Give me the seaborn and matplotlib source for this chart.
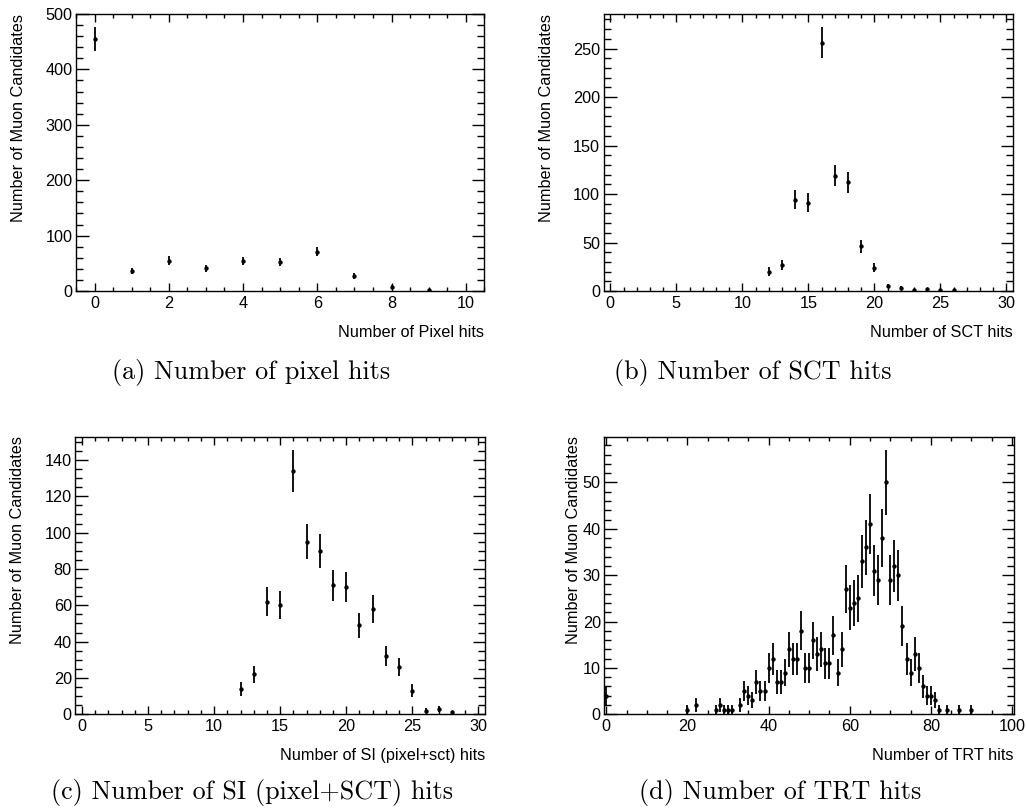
import numpy as np
import pandas as pd
import matplotlib
matplotlib.use("Agg")
import matplotlib.pyplot as plt
import seaborn as sns
from matplotlib.ticker import MultipleLocator

# ---------------- data ----------------
pixel_hits = [0, 1, 2, 3, 4, 5, 6, 7, 8, 9]
pixel_counts = [455, 36, 55, 41, 54, 53, 71, 27, 8, 1]

sct_hits = [12, 13, 14, 15, 16, 17, 18, 19, 20, 21, 22, 23, 24, 25, 26]
sct_counts = [20, 27, 94, 91, 256, 119, 112, 46, 24, 5, 3, 1, 2, 1, 1]

si_hits = [12, 13, 14, 15, 16, 17, 18, 19, 20, 21, 22, 23, 24, 25, 26, 27, 28]
si_counts = [14, 22, 62, 60, 134, 95, 90, 71, 70, 49, 58, 32, 26, 13, 2, 3, 1]

trt_hits = [0, 20, 22, 27, 28, 29, 30, 31, 33, 34, 35, 36, 37, 38, 39, 40, 41,
            42, 43, 44, 45, 46, 47, 48, 49, 50, 51, 52, 53, 54, 55, 56, 57, 58,
            59, 60, 61, 62, 63, 64, 65, 66, 67, 68, 69, 70, 71, 72, 73, 74, 75,
            76, 77, 78, 79, 80, 81, 82, 84, 87, 90]
trt_counts = [4, 1, 2, 1, 2, 1, 1, 1, 2, 5, 4, 3, 7, 5, 5, 10, 12,
              7, 7, 9, 14, 12, 12, 18, 10, 10, 16, 13, 14, 11, 11, 17, 9, 14,
              27, 23, 24, 25, 33, 36, 41, 31, 29, 38, 50, 29, 32, 30, 19, 12, 9,
              13, 10, 6, 4, 4, 3, 1, 1, 1, 1]

x_titles = ["Number of Pixel hits", "Number of SCT hits",
            "Number of SI (pixel+sct) hits", "Number of TRT hits"]
y_title = "Number of Muon Candidates"
captions = ["(a) Number of pixel hits", "(b) Number of SCT hits",
            "(c) Number of SI (pixel+SCT) hits", "(d) Number of TRT hits"]

# ---------------- style ----------------
sns.set_theme(style="ticks")
plt.rcParams["font.family"] = ["Liberation Sans", "DejaVu Sans"]
plt.rcParams["axes.linewidth"] = 1.0

fig = plt.figure(figsize=(10.26, 8.1), dpi=100)
W, H = 1026.0, 810.0

def px_axes(l, t, r, b):
    return fig.add_axes([l / W, 1 - b / H, (r - l) / W, (b - t) / H])

panels = [
    dict(box=(76, 14, 484.3, 291), x=pixel_hits, y=pixel_counts, xlim=(-0.5, 10.5),
         ylim=(0, 500), xmaj=2, xmin=0.5, ymaj=100, ymin=20, ylab_off=-50, cap=(251, 372)),
    dict(box=(603.7, 14, 1013, 291), x=sct_hits, y=sct_counts, xlim=(-0.5, 30.5),
         ylim=(0, 285.6), xmaj=5, xmin=1, ymaj=50, ymin=10, ylab_off=-50, cap=(753, 372)),
    dict(box=(75.3, 436.5, 485, 714.3), x=si_hits, y=si_counts, xlim=(-0.5, 30.5),
         ylim=(0, 152.9), xmaj=5, xmin=1, ymaj=20, ymin=5, ylab_off=-50, cap=(252, 793)),
    dict(box=(604.3, 436.5, 1014, 714.3), x=trt_hits, y=trt_counts, xlim=(-0.5, 100.5),
         ylim=(0, 59.9), xmaj=20, xmin=5, ymaj=10, ymin=2, ylab_off=-23, cap=(780, 793)),
]

FS = 11.7
for i, p in enumerate(panels):
    l, t, r, b = p["box"]
    ax = px_axes(l, t, r, b)
    df = pd.DataFrame({"x": p["x"], "y": p["y"]})
    err = np.sqrt(df["y"].to_numpy(dtype=float))
    ax.errorbar(df["x"], df["y"], yerr=err, fmt="none", ecolor="black",
                elinewidth=1.3, capsize=0, zorder=2)
    sns.scatterplot(data=df, x="x", y="y", ax=ax, color="black", s=10,
                    marker="o", linewidth=0, zorder=3, legend=False)
    ax.set_xlim(*p["xlim"])
    ax.set_ylim(*p["ylim"])
    ax.xaxis.set_major_locator(MultipleLocator(p["xmaj"]))
    ax.xaxis.set_minor_locator(MultipleLocator(p["xmin"]))
    ax.yaxis.set_major_locator(MultipleLocator(p["ymaj"]))
    ax.yaxis.set_minor_locator(MultipleLocator(p["ymin"]))
    ax.tick_params(axis="both", which="both", direction="in", top=True, right=True,
                   color="black", labelcolor="black", labelsize=FS, width=1.0)
    ax.tick_params(axis="y", which="major", length=9.0, pad=2.5)
    ax.tick_params(axis="y", which="minor", length=4.8)
    ax.tick_params(axis="x", which="major", length=5.5, pad=3.5)
    ax.tick_params(axis="x", which="minor", length=2.8)
    for s in ax.spines.values():
        s.set_color("black")
        s.set_linewidth(1.0)
    wpx = r - l
    hpx = b - t
    ax.set_xlabel(x_titles[i], loc="right", fontsize=FS, color="black")
    ax.xaxis.set_label_coords(1.0, -34.0 / hpx)
    ax.set_ylabel(y_title, loc="top", fontsize=FS, color="black")
    ax.yaxis.set_label_coords(p["ylab_off"] / wpx, 1.0)
    cx, cy = p["cap"]
    fig.text(cx / W, 1 - cy / H, captions[i], fontfamily="cmr10", fontsize=18.8,
             ha="center", va="center", color="black")

fig.savefig("out.png", dpi=100)
